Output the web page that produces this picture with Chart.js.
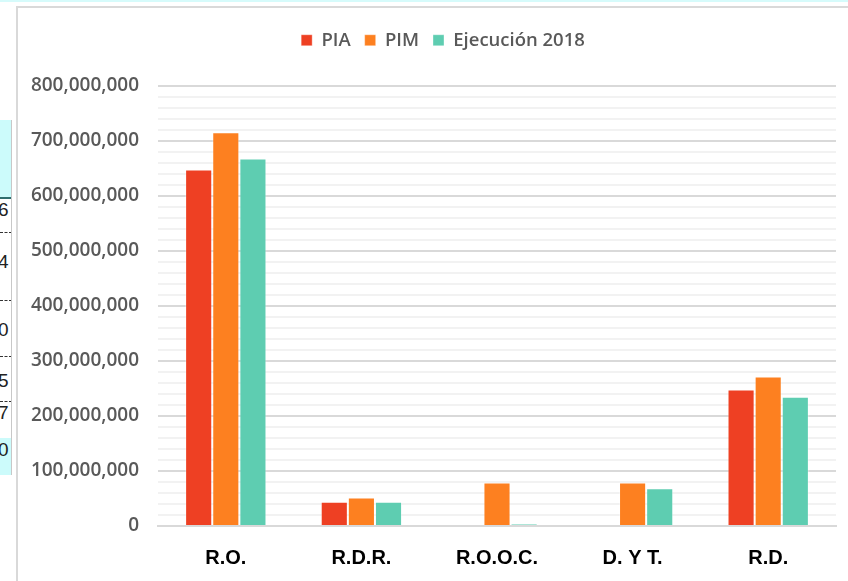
<!DOCTYPE html>
<html>
<head>
<meta charset="utf-8">
<script src="https://cdn.jsdelivr.net/npm/chart.js@4.4.1/dist/chart.umd.min.js"></script>
<style>
  html, body { margin: 0; padding: 0; background: #fff; overflow: hidden; width: 848px; height: 581px; }
  .topline { position: absolute; left: 0; top: 0; width: 848px; height: 2px; background: #d6fbfb; }
  .sheet { position: absolute; left: 0; top: 0; width: 12px; height: 581px; font: 19px "Liberation Sans", sans-serif; color: #222; }
  .sheet .cyan { position: absolute; left: 0; width: 11px; background: #ccfbfb; }
  .sheet .cell { position: absolute; left: -2px; width: 10px; text-align: right; overflow: visible; line-height: 20px; }
  .sheet .dash { position: absolute; left: 0; width: 12px; border-top: 1px dashed #333; }
  .sheet .vline { position: absolute; left: 11px; top: 120px; width: 1px; height: 355px; background: #c8c8c8; }
  .frame { position: absolute; left: 16px; top: 6px; width: 840px; height: 580px; border-left: 2px solid #d9d9d9; border-top: 2px solid #d9d9d9; }
  canvas { display: block; }
</style>
</head>
<body>
<div class="topline"></div>
<div class="sheet">
  <div class="cyan" style="top:120px;height:77px"></div>
  <div class="dash" style="top:197px;border-top:2px solid #2e6e6e"></div>
  <div class="cell" style="top:200px">6</div>
  <div class="dash" style="top:232px"></div>
  <div class="cell" style="top:252px">4</div>
  <div class="dash" style="top:300px"></div>
  <div class="cell" style="top:320px">0</div>
  <div class="dash" style="top:356px"></div>
  <div class="cell" style="top:371px">5</div>
  <div class="dash" style="top:401px"></div>
  <div class="cell" style="top:403px">7</div>
  <div class="cyan" style="top:438px;height:37px"></div>
  <div class="cell" style="top:440px">0</div>
  <div class="vline"></div>
</div>
<div class="frame">
  <canvas id="chart" width="830" height="573"></canvas>
</div>
<script>
const categories = ["R.O.", "R.D.R.", "R.O.O.C.", "D. Y T.", "R.D."];
const seriesNames = ["PIA", "PIM", "Ejecución 2018"];
const pia = [648000000, 44000000, 0, 0, 248000000];
const pim = [716000000, 52000000, 79000000, 79000000, 272000000];
const ejecucion = [668000000, 44000000, 3600000, 68500000, 235000000];
const yTicks = [0, 100000000, 200000000, 300000000, 400000000, 500000000, 600000000, 700000000, 800000000];

const colors = ["#ee4023", "#fd8020", "#5ecdb1"];
const gray = "#595959";

// legend height fixed so the plot starts where the original does,
// and legend nudged right (it is centred on the plot, not the canvas)
const legendFit = {
  id: "legendFit",
  beforeInit(chart) {
    const fit = chart.legend.fit;
    chart.legend.fit = function () {
      fit.call(this);
      this.height = 69;
    };
  },
  afterLayout(chart) {
    chart.legend.left += 16;
    chart.legend.right += 16;
  }
};

new Chart(document.getElementById("chart").getContext("2d"), {
  type: "bar",
  plugins: [legendFit],
  data: {
    labels: categories,
    datasets: [pia, pim, ejecucion].map((values, i) => ({
      label: seriesNames[i],
      data: values,
      backgroundColor: colors[i],
      borderColor: "rgba(255,255,255,0.35)",
      borderWidth: 1,
      categoryPercentage: 0.6,
      barPercentage: 1.0
    }))
  },
  options: {
    responsive: false,
    animation: false,
    layout: { padding: { top: 9, right: 12, left: 0, bottom: 0 } },
    plugins: {
      tooltip: { enabled: false },
      legend: {
        position: "top",
        labels: {
          boxWidth: 11,
          boxHeight: 11,
          padding: 14,
          color: gray,
          font: { family: "'Open Sans', sans-serif", size: 18.5, weight: 600 }
        }
      }
    },
    scales: {
      x: {
        grid: { display: false },
        border: { display: true, color: "#d9d9d9", width: 2 },
        ticks: {
          padding: 12,
          color: "#000",
          font: { family: "'Liberation Sans Narrow', 'Liberation Sans', sans-serif", size: 20, weight: "bold" }
        },
        afterFit(axis) { axis.height = 55; }
      },
      y: {
        min: 0,
        max: 800000000,
        border: { display: false },
        afterBuildTicks(axis) {
          const t = [];
          for (let v = 0; v <= 800000000; v += 20000000) t.push({ value: v });
          axis.ticks = t;
        },
        ticks: {
          autoSkip: false,
          padding: 19,
          color: gray,
          font: { family: "'Open Sans', sans-serif", size: 19, weight: 600 },
          callback: (v) => yTicks.includes(v) ? v.toLocaleString("en-US") : ""
        },
        grid: {
          drawTicks: false,
          color: (ctx) => yTicks.includes(ctx.tick.value) ? "#d9d9d9" : "#f2f2f2",
          lineWidth: 2
        },
        afterFit(axis) { axis.width = 140; }
      }
    }
  }
});
</script>
</body>
</html>
